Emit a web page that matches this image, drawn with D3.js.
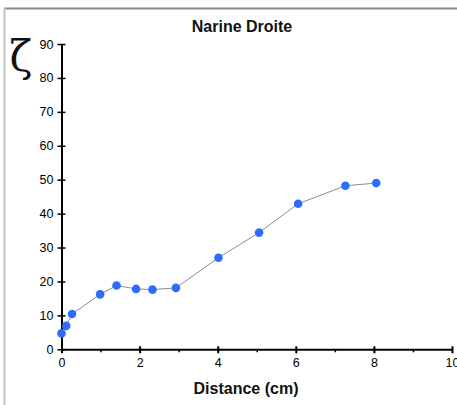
<!DOCTYPE html>
<html><head><meta charset="utf-8">
<script src="https://cdn.jsdelivr.net/npm/d3@7"></script>
<style>body{margin:0;background:#fff}svg{display:block}</style>
</head><body>
<script>
const title = "Narine Droite";
const xLabel = "Distance (cm)";
const yLabel = "ζ";
const distance = [0, 0.12, 0.27, 0.99, 1.41, 1.91, 2.33, 2.93, 4.02, 5.06, 6.06, 7.27, 8.06];
const zeta = [4.7, 6.9, 10.4, 16.2, 18.8, 17.8, 17.6, 18.1, 27.0, 34.4, 42.9, 48.2, 49.0];
const xTicks = [0, 2, 4, 6, 8, 10];
const xMinorTicks = [1, 3, 5, 7, 9];
const yTicks = [0, 10, 20, 30, 40, 50, 60, 70, 80, 90];

const W = 457, H = 405;
const svg = d3.select("body").append("svg").attr("width", W).attr("height", H);

// frame
svg.append("line").attr("x1", 4).attr("x2", W).attr("y1", 8.5).attr("y2", 8.5)
  .attr("stroke", "#8a8a8a").attr("stroke-width", 2);
svg.append("line").attr("x1", 4.5).attr("x2", 4.5).attr("y1", 8).attr("y2", H)
  .attr("stroke", "#c4c4c4").attr("stroke-width", 2);

const x = d3.scaleLinear().domain([0, 10]).range([61.5, 452]);
const y = d3.scaleLinear().domain([0, 90]).range([349.3, 44]);

const font = "Liberation Sans, Arial, sans-serif";

// x axis
const gx = svg.append("g").attr("transform", `translate(0,${y(0)})`);
gx.append("g").call(d3.axisBottom(x).tickValues(xMinorTicks).tickSize(3).tickFormat(""))
  .call(g => g.select(".domain").remove())
  .call(g => g.selectAll("line").attr("stroke", "#000").attr("stroke-width", 1.5));
gx.append("g").call(d3.axisBottom(x).tickValues(xTicks).tickSizeInner(4).tickSizeOuter(0).tickPadding(5).tickFormat(d3.format("d")))
  .call(g => g.select(".domain").attr("stroke", "#000").attr("stroke-width", 2))
  .call(g => g.selectAll(".tick line").attr("y1", -3).attr("stroke", "#000").attr("stroke-width", 2))
  .call(g => g.selectAll("text").attr("font-family", font).attr("font-size", 12.5).attr("fill", "#000"));

// y axis
const gy = svg.append("g").attr("transform", `translate(${x(0)},0)`);
gy.call(d3.axisLeft(y).tickValues(yTicks).tickSizeInner(3).tickSizeOuter(0).tickPadding(5).tickFormat(d3.format("d")))
  .call(g => g.select(".domain").attr("stroke", "#000").attr("stroke-width", 2))
  .call(g => g.selectAll(".tick line").attr("x2", -4).attr("x1", 4).attr("stroke", "#000").attr("stroke-width", 1.5))
  .call(g => g.selectAll("text").attr("font-family", font).attr("font-size", 12.5).attr("fill", "#000"));

// line
const line = d3.line().x((d, i) => x(distance[i])).y(d => y(d));
svg.append("path").datum(zeta).attr("d", line).attr("fill", "none")
  .attr("stroke", "#8c8c8c").attr("stroke-width", 1);

// points
svg.append("g").selectAll("circle").data(zeta).join("circle")
  .attr("cx", (d, i) => x(distance[i])).attr("cy", d => y(d)).attr("r", 4.3)
  .attr("fill", "#2f6bff");

// title
svg.append("text").attr("x", 242).attr("y", 32).attr("text-anchor", "middle")
  .attr("font-family", font).attr("font-weight", "bold").attr("font-size", 16).attr("fill", "#111").text(title);
svg.append("text").attr("x", 246).attr("y", 394).attr("text-anchor", "middle")
  .attr("font-family", font).attr("font-weight", "bold").attr("font-size", 16).attr("fill", "#111").text(xLabel);
svg.append("text").attr("x", 21).attr("y", 71).attr("text-anchor", "middle")
  .attr("font-family", "DejaVu Serif, serif").attr("font-size", 42).attr("fill", "#111").text(yLabel);
</script>
</body></html>
